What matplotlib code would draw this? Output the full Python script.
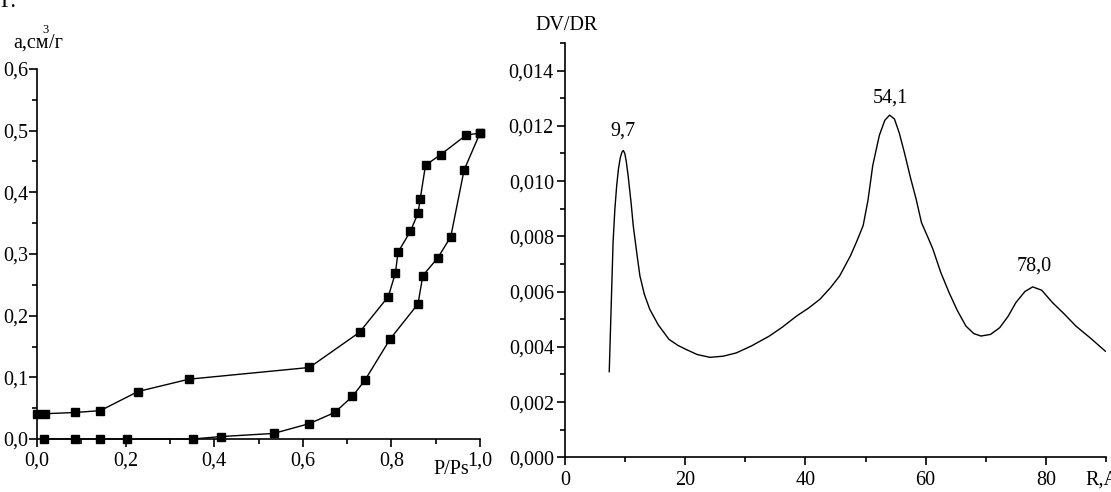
import matplotlib
matplotlib.use("Agg")
import matplotlib.pyplot as plt
from matplotlib.ticker import FixedLocator, MultipleLocator

plt.rcParams['font.family'] = ['Liberation Serif', 'DejaVu Serif']

# ---- Left chart: adsorption / desorption isotherm ----
ads_p = [0.016, 0.086, 0.143, 0.204, 0.352, 0.416, 0.534, 0.615, 0.672, 0.712,
         0.740, 0.797, 0.860, 0.871, 0.905, 0.934, 0.964, 1.000]
ads_a = [0.000, 0.000, 0.000, 0.000, 0.000, 0.004, 0.009, 0.025, 0.043, 0.069,
         0.095, 0.162, 0.219, 0.265, 0.294, 0.328, 0.436, 0.496]
des_p = [1.000, 0.969, 0.911, 0.877, 0.865, 0.860, 0.843, 0.815, 0.809, 0.793,
         0.728, 0.615, 0.343, 0.228, 0.143, 0.086, 0.018, 0.000]
des_a = [0.496, 0.493, 0.461, 0.444, 0.389, 0.366, 0.337, 0.303, 0.269, 0.231,
         0.173, 0.116, 0.097, 0.077, 0.046, 0.043, 0.041, 0.041]
left_xticks = [0.0, 0.2, 0.4, 0.6, 0.8, 1.0]
left_xlabels = ["0,0", "0,2", "0,4", "0,6", "0,8", "1,0"]
left_yticks = [0.0, 0.1, 0.2, 0.3, 0.4, 0.5, 0.6]
left_ylabels = ["0,0", "0,1", "0,2", "0,3", "0,4", "0,5", "0,6"]

# ---- Right chart: pore size distribution ----
r_vals = [7.36, 7.7, 8.0, 8.3, 8.6, 8.9, 9.2, 9.5, 9.7, 9.95, 10.2, 10.5, 11.0,
          11.35, 12.0, 12.46, 13.2, 14.1, 15.5, 17.3, 18.8, 20.2, 22.0, 24.1,
          26.3, 28.5, 31.0, 34.0, 36.2, 38.5, 40.5, 42.4, 44.2, 45.7, 47.5, 48.5,
          49.6, 50.4, 51.2, 52.3, 53.2, 54.0, 54.8, 55.6, 56.5, 57.5, 58.4, 59.3,
          60.3, 61.2, 62.5, 63.9, 65.3, 66.7, 68.0, 69.2, 70.8, 72.3, 73.7, 75.0,
          76.5, 77.8, 79.3, 81.1, 83.0, 85.0, 87.5, 89.9]
dvdr_vals = [0.00310, 0.00560, 0.00780, 0.00900, 0.00984, 0.01045, 0.01085, 0.01106,
             0.01111, 0.01100, 0.01070, 0.01020, 0.00920, 0.00839, 0.00730, 0.00657,
             0.00590, 0.00536, 0.00480, 0.00427, 0.00405, 0.00390, 0.00372, 0.00362,
             0.00366, 0.00378, 0.00403, 0.00439, 0.00472, 0.00511, 0.00540, 0.00572,
             0.00615, 0.00657, 0.00730, 0.00780, 0.00839, 0.00930, 0.01057, 0.01166,
             0.01220, 0.01239, 0.01225, 0.01175, 0.01100, 0.01010, 0.00936, 0.00850,
             0.00800, 0.00754, 0.00670, 0.00596, 0.00530, 0.00475, 0.00448, 0.00439,
             0.00445, 0.00469, 0.00510, 0.00560, 0.00600, 0.00617, 0.00605, 0.00560,
             0.00520, 0.00475, 0.00430, 0.00384]
peak_r = [9.7, 54.1, 78.0]
peak_y = [0.01183, 0.01299, 0.00692]
peak_labels = ["9,7", "54,1", "78,0"]
right_xticks = [0, 20, 40, 60, 80]
right_xlabels = ["0", "20", "40", "60", "80"]
right_yticks = [0.000, 0.002, 0.004, 0.006, 0.008, 0.010, 0.012, 0.014]
right_ylabels = ["0,000", "0,002", "0,004", "0,006", "0,008", "0,010", "0,012", "0,014"]

W, H = 1111, 492
fig = plt.figure(figsize=(W / 100, H / 100), dpi=100)

def px_rect(x0, y_top, x1, y_bot):
    return [x0 / W, 1 - y_bot / H, (x1 - x0) / W, (y_bot - y_top) / H]

FS = 14.5
LW = 1.2

def style(ax):
    for s in ['top', 'right']:
        ax.spines[s].set_visible(False)
    for s in ['left', 'bottom']:
        ax.spines[s].set_linewidth(LW)
    ax.tick_params(which='major', direction='out', length=6, width=LW, labelsize=FS)
    ax.tick_params(which='minor', direction='out', length=3.5, width=LW)
    ax.patch.set_alpha(0)

# Left
axL = fig.add_axes(px_rect(37, 69, 480, 439))
style(axL)
axL.plot(ads_p, ads_a, color='black', lw=1.0, marker='s', ms=5.5, clip_on=False)
axL.plot(des_p, des_a, color='black', lw=1.0, marker='s', ms=5.5, clip_on=False)
axL.set_xlim(0, 1.0)
axL.set_ylim(0, 0.6)
axL.xaxis.set_major_locator(FixedLocator(left_xticks))
axL.set_xticklabels(left_xlabels)
axL.xaxis.set_minor_locator(MultipleLocator(0.1))
axL.yaxis.set_major_locator(FixedLocator(left_yticks))
axL.set_yticklabels(left_ylabels)
axL.yaxis.set_minor_locator(MultipleLocator(0.05))
axL.tick_params(axis='y', which='major', pad=0)
axL.tick_params(axis='x', which='major', pad=3)

# Right
axR = fig.add_axes(px_rect(565, 43, 1106, 457.3))
style(axR)
axR.plot(r_vals, dvdr_vals, color='black', lw=1.0)
axR.set_xlim(0, 90)
axR.set_ylim(0, 0.015)
axR.xaxis.set_major_locator(FixedLocator(right_xticks))
axR.set_xticklabels(right_xlabels)
axR.xaxis.set_minor_locator(MultipleLocator(10))
axR.yaxis.set_major_locator(FixedLocator(right_yticks))
axR.set_yticklabels(right_ylabels)
axR.yaxis.set_minor_locator(MultipleLocator(0.001))
axR.tick_params(axis='y', which='major', pad=2)
axR.tick_params(axis='x', which='major', pad=4)
for r, y, t in zip(peak_r, peak_y, peak_labels):
    axR.text(r, y, t, ha='center', va='center', fontsize=FS)

def ftext(x, y, s, **kw):
    fig.text(x / W, 1 - y / H, s, **kw)

ftext(0, 7, "Г.", fontsize=16, ha='left', va='baseline')
ftext(13, 48, "а,см", fontsize=FS, ha='left', va='baseline')
ftext(42, 33, "3", fontsize=9, ha='left', va='baseline')
ftext(49, 48, "/г", fontsize=FS, ha='left', va='baseline')
ftext(535, 25, "DV/DR", fontsize=FS, ha='left', va='center')
ftext(433, 470, "P/Ps", fontsize=FS, ha='left', va='center')
ftext(1085, 480, "R,A", fontsize=FS, ha='left', va='center')

fig.savefig("out.png", dpi=100)
